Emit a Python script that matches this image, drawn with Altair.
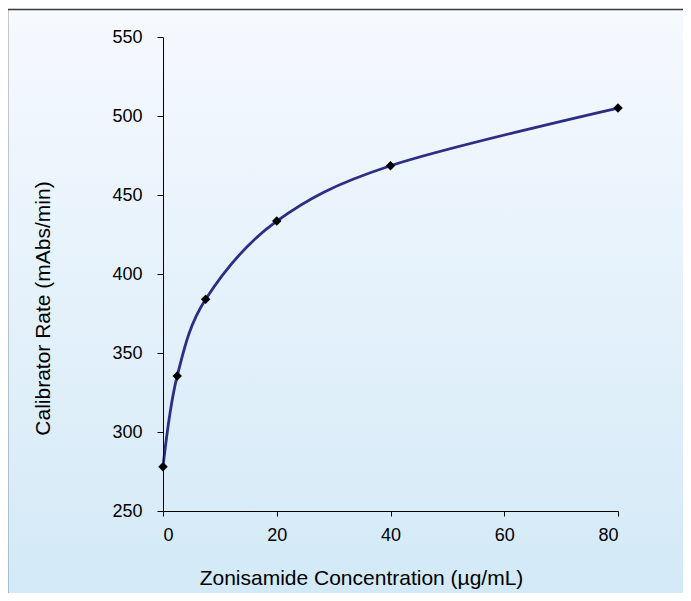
import altair as alt
import pandas as pd

# Data
conc = [0, 2.5, 7.5, 20, 40, 80]
rate = [278, 335.5, 384, 433.5, 468.5, 505]
x_ticks = [0, 20, 40, 60, 80]
y_ticks = [250, 300, 350, 400, 450, 500, 550]

df = pd.DataFrame({"conc": conc, "rate": rate})

W, H = 455, 474
PAD = {"left": 155, "top": 29, "right": 65, "bottom": 82}
FONT = "Liberation Sans"

grad = alt.LinearGradient(
    gradient="linear",
    stops=[alt.GradientStop(color="#f6f9fe", offset=0),
           alt.GradientStop(color="#d2e9f7", offset=1)],
    x1=0, x2=0, y1=0, y2=1,
)

bg = alt.Chart(alt.Data(values=[{}])).mark_rect(
    fill=grad, stroke="#3a3a3a", strokeWidth=1.5
).encode(
    x=alt.value(-155.5), x2=alt.value(W + 80),
    y=alt.value(-27.5), y2=alt.value(H + 95),
)

x_enc = alt.X(
    "conc:Q",
    scale=alt.Scale(domain=[0, 80], nice=False),
    axis=alt.Axis(
        values=x_ticks, title="Zonisamide Concentration (µg/mL)",
        grid=False, domainColor="black", domainWidth=1,
        tickColor="black", tickSize=5, tickWidth=1,
        labelFont=FONT, labelFontSize=18, labelColor="black", labelPadding=10,
        titleFont=FONT, titleFontSize=21, titleFontWeight="normal", titleColor="black",
        titleX=198, titleY=73, titleBaseline="alphabetic", titleAlign="center",
        zindex=1,
    ),
)
y_enc = alt.Y(
    "rate:Q",
    scale=alt.Scale(domain=[250, 550], nice=False, zero=False),
    axis=alt.Axis(
        values=y_ticks, title="Calibrator Rate (mAbs/min)",
        grid=False, domainColor="black", domainWidth=1,
        tickColor="black", tickSize=6, tickWidth=1,
        labelFont=FONT, labelFontSize=18, labelColor="black", labelPadding=15,
        titleFont=FONT, titleFontSize=21, titleFontWeight="normal", titleColor="black",
        titleX=-114, titleY=271, titleAngle=270, titleBaseline="alphabetic", titleAlign="center",
        zindex=1,
    ),
)

line = alt.Chart(df).mark_line(
    color="#2d2d84", strokeWidth=2.8, interpolate="cardinal"
).encode(x=x_enc, y=y_enc)

pts = alt.Chart(df).mark_point(
    shape="diamond", filled=True, color="black", size=90, opacity=1
).encode(x="conc:Q", y="rate:Q")

chart = alt.layer(bg, line, pts).properties(
    width=W, height=H,
    autosize=alt.AutoSizeParams(type="none"),
    padding=PAD,
    background="white",
).configure_view(stroke=None)

chart.save("out.html", embed_options={"renderer": "svg", "actions": False})
